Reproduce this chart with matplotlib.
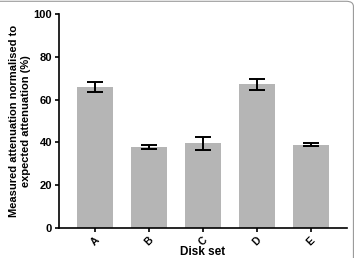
import matplotlib
matplotlib.use("Agg")
import matplotlib.pyplot as plt
from matplotlib.patches import FancyBboxPatch

# Values
categories = ["A", "B", "C", "D", "E"]
means = [66.0, 37.9, 39.6, 67.2, 38.9]
errors = [2.3, 1.0, 3.0, 2.5, 0.6]
yticks = [0, 20, 40, 60, 80, 100]

plt.rcParams["font.family"] = ["Liberation Sans", "DejaVu Sans"]
plt.rcParams["font.weight"] = "bold"

fig = plt.figure(figsize=(3.57, 2.58), dpi=100)
ax = fig.add_axes([0.165, 0.116, 0.807, 0.830])

x = list(range(len(categories)))
ax.bar(x, means, width=0.667, color="#b5b5b5", zorder=1)
ax.errorbar(x, means, yerr=errors, fmt="none", ecolor="black",
            elinewidth=1.4, capsize=5.5, capthick=1.4, zorder=2)

ax.set_xlim(-0.667, len(categories) - 1 + 0.667)
ax.set_ylim(0, 100)
ax.set_yticks(yticks)
ax.set_xticks(x)
ax.set_xticklabels(categories, rotation=45, ha="center")

for s in ["top", "right"]:
    ax.spines[s].set_visible(False)
for s in ["left", "bottom"]:
    ax.spines[s].set_linewidth(1.2)
ax.tick_params(axis="both", direction="out", length=3, width=1.2, labelsize=8, pad=2)
ax.tick_params(axis="x", labelsize=7.5, pad=2)

ax.set_ylabel("Measured attenuation normalised to\nexpected attenuation (%)",
              fontsize=8, fontweight="bold", labelpad=2, linespacing=1.2)
ax.set_xlabel("Disk set", fontsize=8.5, fontweight="bold", labelpad=-1)

# light rounded panel frame around the figure
frame = FancyBboxPatch((-0.02, -0.02), 1.01, 1.015, boxstyle="round,pad=0,rounding_size=0.02",
                       transform=fig.transFigure, fill=False, edgecolor="#9a9a9a",
                       linewidth=0.8, figure=fig)
fig.patches.append(frame)

fig.savefig("out.png", dpi=100)
